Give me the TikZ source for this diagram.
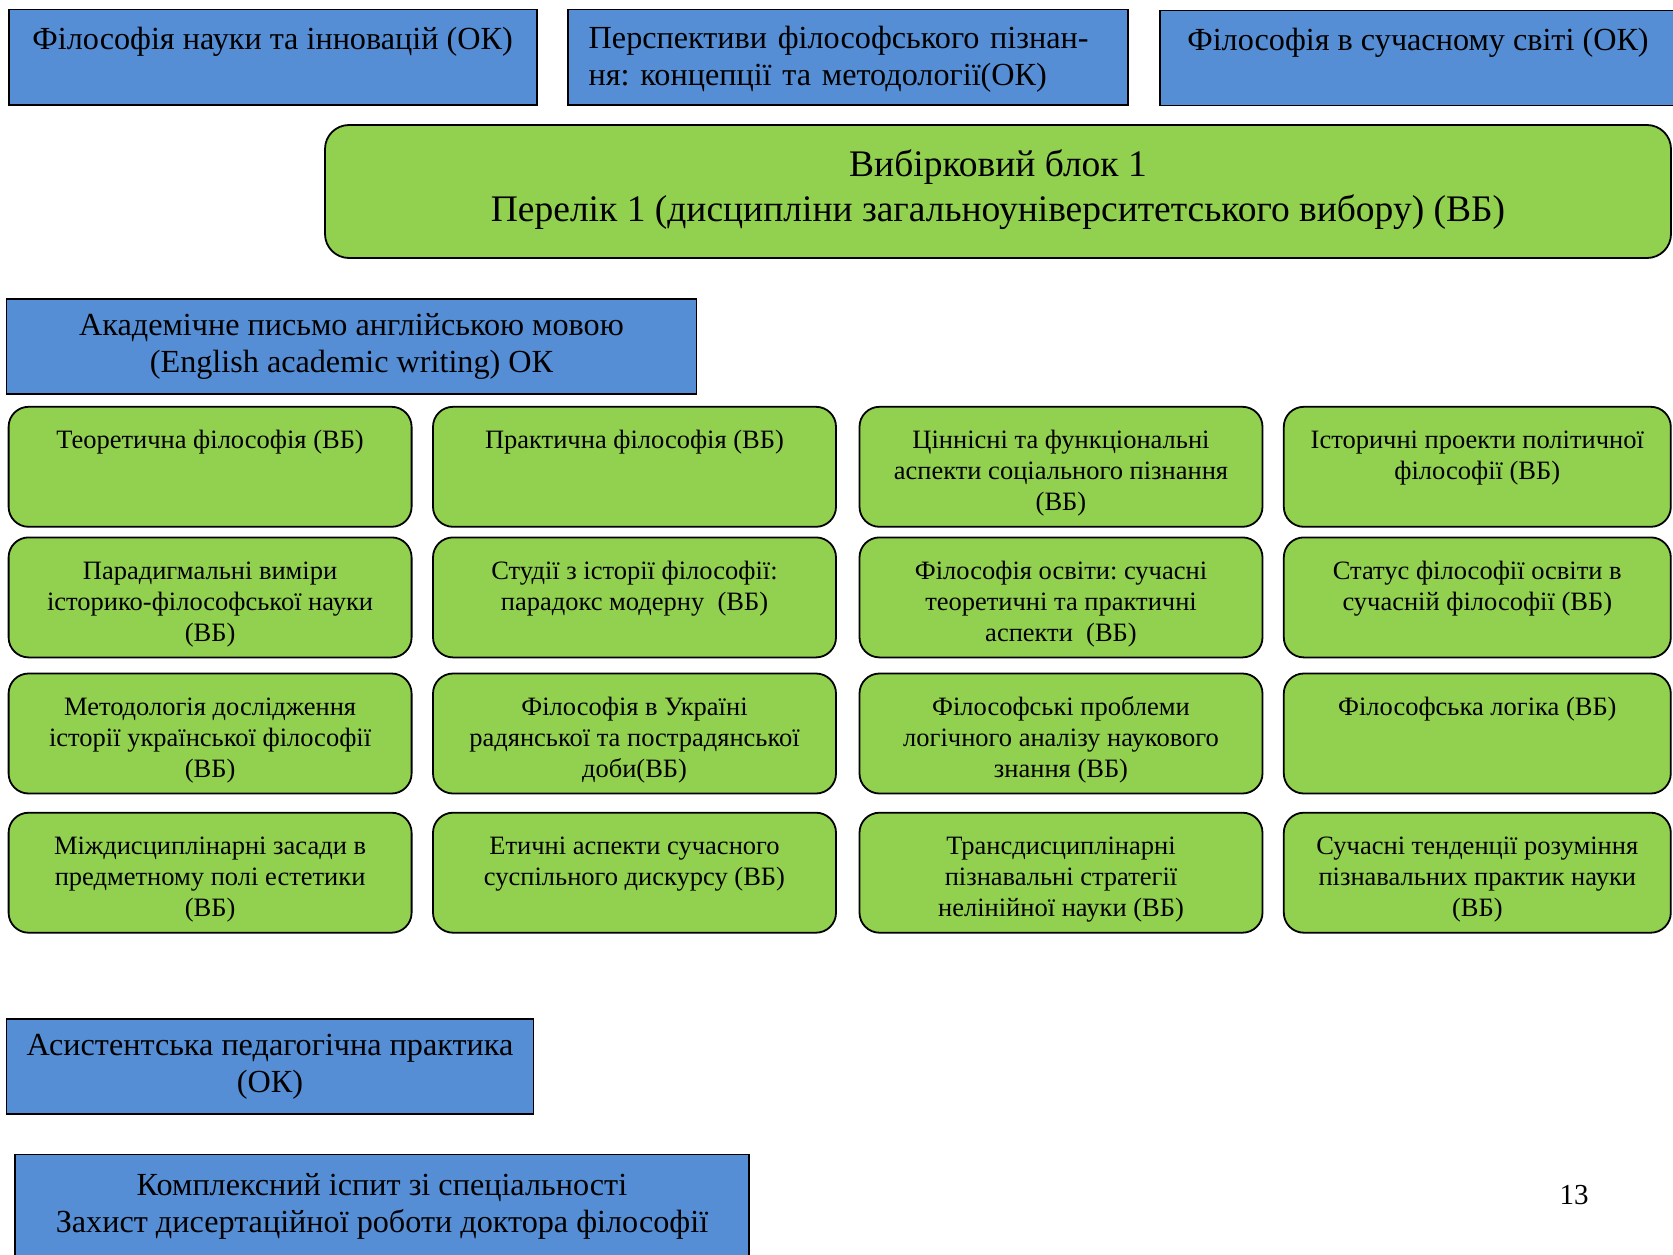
\documentclass[tikz,border=0pt]{standalone}
\usepackage{fontspec}
\setmainfont{Liberation Serif}
\frenchspacing
\usetikzlibrary{positioning}
\definecolor{okblue}{RGB}{85,142,213}
\definecolor{vbgreen}{RGB}{146,208,80}
\newcommand{\vbtop}{\rule{0pt}{31pt}}
\newcommand{\vbpad}{\rule[-5.7pt]{0pt}{5.7pt}}
\begin{document}
\begin{tikzpicture}[x=1pt,y=-1pt]

  % Definitions
  \tikzstyle{OK} = [rectangle, draw=black, line width=1.8pt, fill=okblue, align=center, minimum height=95pt, inner sep=0pt, outer sep=0pt, font=\fontsize{32.2}{37}\selectfont]
  \tikzstyle{VB} = [rectangle, rounded corners=20pt, draw=black, line width=1.8pt, fill=vbgreen, align=center, minimum width=403pt, minimum height=120pt, inner sep=0pt, outer sep=0pt, font=\fontsize{26.5}{31}\selectfont]
  \tikzstyle{Block} = [VB, rounded corners=24pt, minimum width=1346pt, minimum height=133pt, font=\fontsize{37.5}{45}\selectfont]

  \useasboundingbox (0,0) rectangle (1673,1255);
  \clip (0,0) rectangle (1673,1255);

  % obligatory courses on top
  \node (Ok1) [OK, minimum width=528pt] at (272.6,57.1) {Філософія науки та інновацій (ОК)\\ \mbox{}};
  \node (Ok2) [OK, minimum width=560pt, text width=518pt, align=left] at (847.7,57.1) {\rule{0pt}{27.5pt}Перспективи філософського пізнан-\\ня: концепції та методології(ОК)};
  \node (Ok3) [OK, minimum width=516pt] at (1418,58) {Філософія в сучасному світі (ОК)\\ \mbox{}};

  \node (Blok) [Block] at (998,191.5) {Вибірковий блок 1\\Перелік 1 (дисципліни загальноуніверситетського вибору) (ВБ)\rule[-12pt]{0pt}{0pt}};

  \node (Akad) [OK, minimum width=690pt] at (351.5,346.2) {Академічне письмо англійською мовою\\(English academic writing) ОК};

  % elective block
  \node (VB11) [VB] at (210.1,466.8) {\vbtop Теоретична філософія (ВБ)\\ \vbpad\\ \vbpad};
  \node (VB12) [VB, right=21.4pt of VB11] {\vbtop Практична філософія (ВБ)\\ \vbpad\\ \vbpad};
  \node (VB13) [VB, right=23.5pt of VB12] {\vbtop Ціннісні та функціональні\\аспекти соціального пізнання\\(ВБ)};
  \node (VB14) [VB, right=21.3pt of VB13, minimum width=387pt] {\vbtop Історичні проекти політичної\\філософії (ВБ)\\ \vbpad};

  \node (VB21) [VB, below=10.6pt of VB11] {\vbtop Парадигмальні виміри\\історико-філософської науки\\(ВБ)};
  \node (VB22) [VB, right=21.4pt of VB21] {\vbtop Студії з історії філософії:\\парадокс модерну\ \ (ВБ)\\ \vbpad};
  \node (VB23) [VB, right=23.5pt of VB22] {\vbtop Філософія освіти: сучасні\\теоретичні та практичні\\аспекти\ \ (ВБ)};
  \node (VB24) [VB, right=21.3pt of VB23, minimum width=387pt] {\vbtop Статус філософії освіти в\\сучасній філософії (ВБ)\\ \vbpad};

  \node (VB31) [VB, below=16.1pt of VB21] {\vbtop Методологія дослідження\\історії української філософії\\(ВБ)};
  \node (VB32) [VB, right=21.4pt of VB31] {\vbtop Філософія в Україні\\радянської та пострадянської\\доби(ВБ)};
  \node (VB33) [VB, right=23.5pt of VB32] {\vbtop Філософські проблеми\\логічного аналізу наукового\\знання (ВБ)};
  \node (VB34) [VB, right=21.3pt of VB33, minimum width=387pt] {\vbtop Філософська логіка (ВБ)\\ \vbpad\\ \vbpad};

  \node (VB41) [VB, below=19.2pt of VB31] {\vbtop Міждисциплінарні засади в\\предметному полі естетики\\(ВБ)};
  \node (VB42) [VB, right=21.4pt of VB41] {\vbtop Етичні аспекти сучасного\\суспільного дискурсу (ВБ)\\ \vbpad};
  \node (VB43) [VB, right=23.5pt of VB42] {\vbtop Трансдисциплінарні\\пізнавальні стратегії\\нелінійної науки (ВБ)};
  \node (VB44) [VB, right=21.3pt of VB43, minimum width=387pt] {\vbtop Сучасні тенденції розуміння\\пізнавальних практик науки\\(ВБ)};

  % practice and final attestation
  \node (Asyst) [OK, minimum width=527pt] at (270,1066.5) {Асистентська педагогічна практика\\(ОК)};
  \node (Kompl) [OK, minimum width=734pt, minimum height=103pt] at (382,1206) {Комплексний іспит зі спеціальності\\Захист дисертаційної роботи доктора філософії};

  \node (Page) [font=\fontsize{29}{34}\selectfont] at (1574,1195) {13};

\end{tikzpicture}
\end{document}
